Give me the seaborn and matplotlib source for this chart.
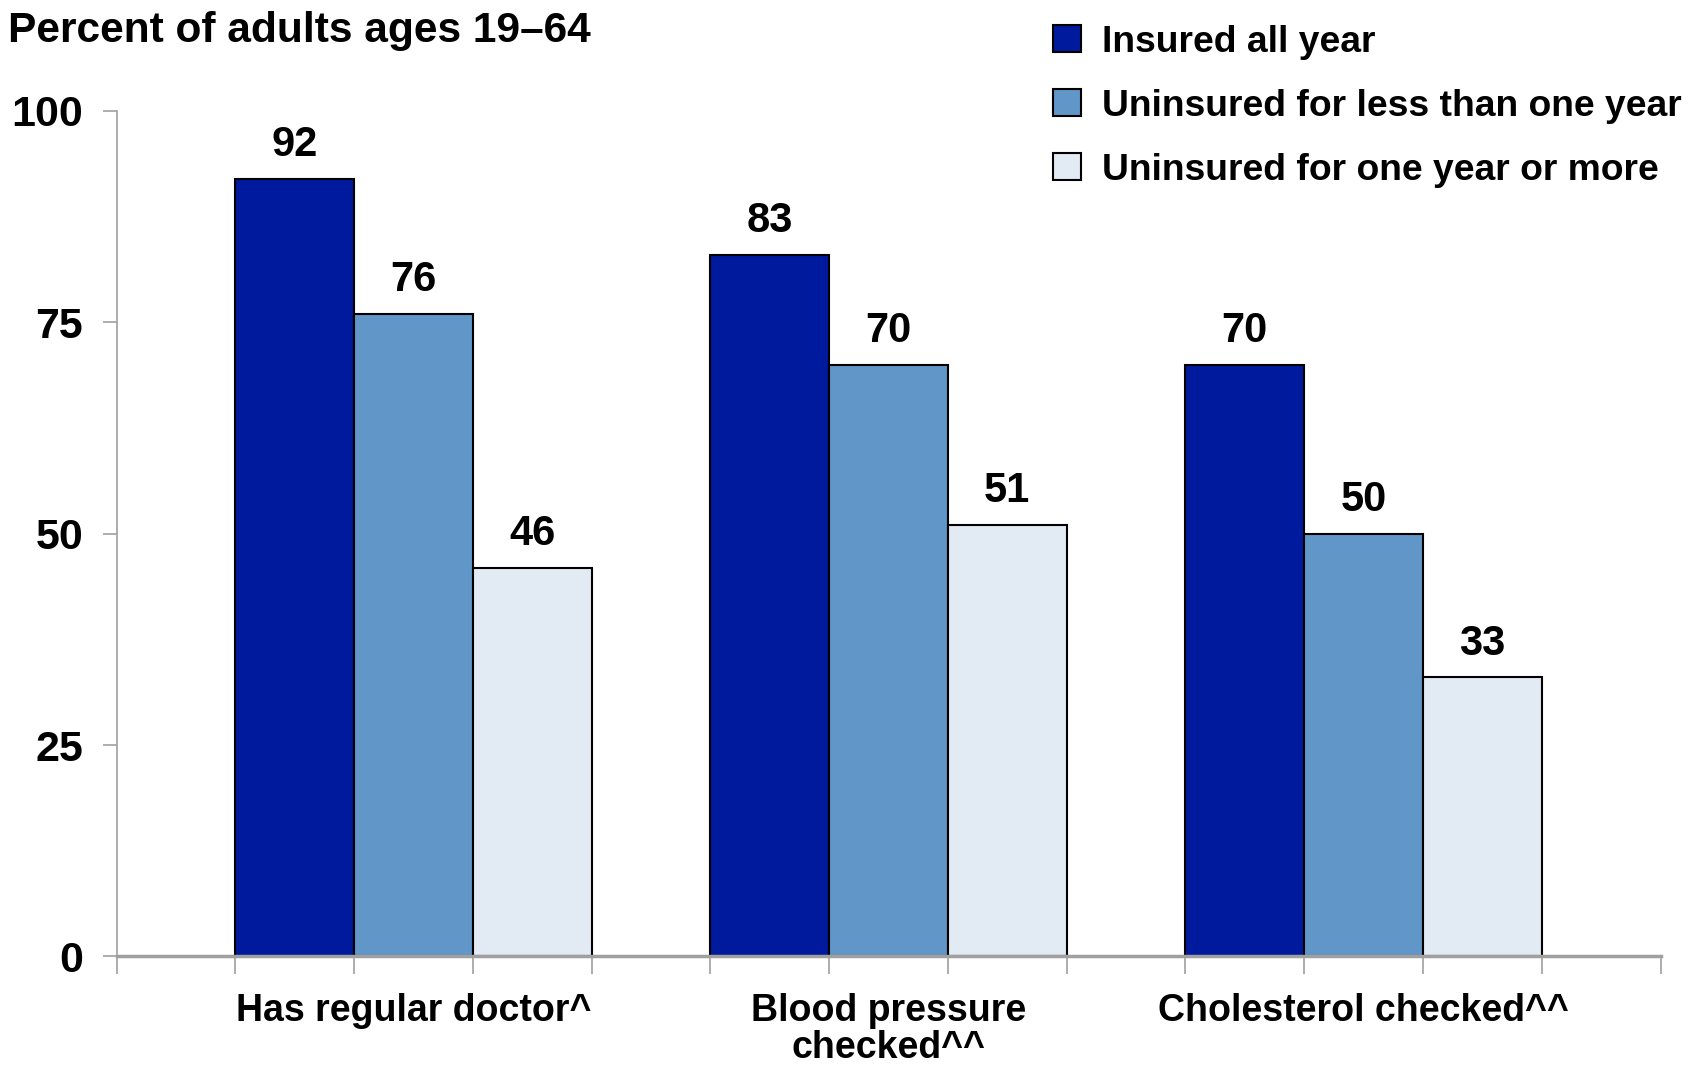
import pandas as pd
import matplotlib
matplotlib.use("Agg")
import matplotlib.pyplot as plt
from matplotlib.patches import Patch
import seaborn as sns

categories = ["Has regular doctor^", "Blood pressure\nchecked^^", "Cholesterol checked^^"]
groups = ["Insured all year", "Uninsured for less than one year", "Uninsured for one year or more"]
insured_all_year = [92, 83, 70]
uninsured_lt_1yr = [76, 70, 50]
uninsured_1yr_plus = [46, 51, 33]
colors = ["#001A9E", "#6096C8", "#E2EAF4"]

sns.set_theme(style="white")
plt.rcParams["font.family"] = ["Liberation Sans", "DejaVu Sans"]
plt.rcParams["font.weight"] = "bold"
plt.rcParams["text.color"] = "black"

df = pd.DataFrame({
    "category": categories * 3,
    "group": [g for g in groups for _ in categories],
    "value": insured_all_year + uninsured_lt_1yr + uninsured_1yr_plus,
})

fig = plt.figure(figsize=(16.91, 10.67), dpi=100)
ax = fig.add_axes([0.0689, 0.1036, 0.9131, 0.7924])
sns.barplot(data=df, x="category", y="value", hue="group", hue_order=groups,
            palette=colors, width=0.75, gap=0, edgecolor="black", linewidth=1.5,
            saturation=1, ax=ax, legend=False)

for cont in ax.containers:
    ax.bar_label(cont, padding=10, fontsize=30, fontweight="bold", color="black")

ax.set_xlim(-0.625, 2.625)
ax.set_ylim(0, 100)
ax.set_yticks([0, 25, 50, 75, 100])
ax.set_xlabel("")
ax.set_ylabel("")
for s in ["top", "right"]:
    ax.spines[s].set_visible(False)
ax.spines["left"].set_color("#A0A0A0")
ax.spines["left"].set_linewidth(1.2)
ax.spines["bottom"].set_color("#A0A0A0")
ax.spines["bottom"].set_linewidth(2.5)

ax.tick_params(axis="y", left=True, length=10, width=1.2, color="#A0A0A0",
               labelsize=31, pad=14)
ax.tick_params(axis="x", bottom=True, length=0, labelsize=27, pad=26)
ax.set_xticks(range(len(categories)), categories)
ax.set_xticks([(s - 2.5) / 4 for s in range(14)], minor=True)
ax.tick_params(axis="x", which="minor", bottom=True, length=13, width=1.2, color="#A0A0A0")
for lab in ax.get_xticklabels() + ax.get_yticklabels():
    lab.set_fontweight("bold")
    lab.set_color("black")
for lab in ax.get_xticklabels():
    lab.set_linespacing(1.05)

fig.text(0.005, 0.99, "Percent of adults ages 19–64", fontsize=30.6, fontweight="bold",
         ha="left", va="top")

handles = [Patch(facecolor=c, edgecolor="black", linewidth=1.5) for c in colors]
fig.legend(handles, groups, loc="upper left", bbox_to_anchor=(0.623, 0.977), frameon=False,
           borderpad=0, borderaxespad=0, handlelength=0.75, handleheight=0.75,
           handletextpad=0.55, labelspacing=0.78, prop={"weight": "bold", "size": 26.8})

fig.savefig("out.png", dpi=100)
